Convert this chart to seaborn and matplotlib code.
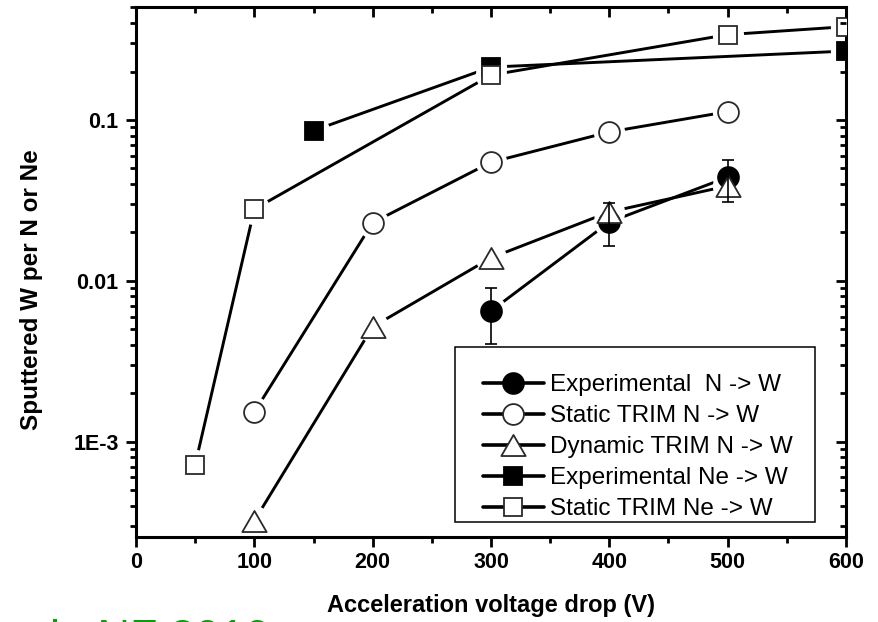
import numpy as np
import pandas as pd
import matplotlib
matplotlib.use("Agg")
import matplotlib.pyplot as plt
import seaborn as sns
from matplotlib.lines import Line2D
from matplotlib.patches import Rectangle
from matplotlib.path import Path
from matplotlib.ticker import FixedLocator, LogLocator, NullFormatter, MultipleLocator

# ---- data: sputtered W per incident ion vs. acceleration voltage drop ----
voltage_exp_n = [300, 400, 500]
yield_exp_n = [6.5e-3, 0.0232, 0.0441]
err_low_exp_n = [4.05e-3, 0.0165, 0.0311]
err_high_exp_n = [9.0e-3, 0.0305, 0.0565]

voltage_trim_n = [100, 200, 300, 400, 500]
yield_static_n = [1.53e-3, 0.0230, 0.0546, 0.0842, 0.1126]
yield_dynamic_n = [3.23e-4, 5.18e-3, 0.0139, 0.0268, 0.0389]

voltage_exp_ne = [150, 300, 600]
yield_exp_ne = [0.0858, 0.213, 0.268]

voltage_trim_ne = [50, 100, 300, 500, 600]
yield_static_ne = [7.2e-4, 0.0279, 0.190, 0.339, 0.380]

series_labels = [
    "Experimental  N -> W",
    "Static TRIM N -> W",
    "Dynamic TRIM N -> W",
    "Experimental Ne -> W",
    "Static TRIM Ne -> W",
]

x_ticks = [0, 100, 200, 300, 400, 500, 600]
y_ticks = [1e-3, 1e-2, 1e-1]
y_tick_labels = ["1E-3", "0.01", "0.1"]

# ---- styling ----
sns.set_theme(style="ticks")
plt.rcParams["font.family"] = ["Liberation Sans", "DejaVu Sans"]

tri = Path([(-1, -0.866), (1, -0.866), (0, 0.866), (-1, -0.866)],
           [Path.MOVETO, Path.LINETO, Path.LINETO, Path.CLOSEPOLY])
open_edge = "#2a2a2a"
styles = [
    dict(marker="o", ms=15.0, mfc="black", mec="black"),
    dict(marker="o", ms=15.0, mfc="white", mec=open_edge),
    dict(marker=tri, ms=17.5, mfc="white", mec=open_edge),
    dict(marker="s", ms=13.5, mfc="black", mec="black"),
    dict(marker="s", ms=13.5, mfc="white", mec=open_edge),
]
series = [
    (voltage_exp_n, yield_exp_n),
    (voltage_trim_n, yield_static_n),
    (voltage_trim_n, yield_dynamic_n),
    (voltage_exp_ne, yield_exp_ne),
    (voltage_trim_ne, yield_static_ne),
]

W, H = 879, 622
fig = plt.figure(figsize=(W / 100, H / 100), dpi=100)
fig.patch.set_facecolor("white")
ax = fig.add_axes([136 / W, 1 - 537 / H, 710 / W, 530.5 / H])
ax.set_facecolor("white")
ax.set_yscale("log")

# connecting lines
for (xs, ys), lab in zip(series, series_labels):
    df = pd.DataFrame({"V": xs, "Y": ys})
    sns.lineplot(data=df, x="V", y="Y", ax=ax, color="black", lw=2.1,
                 sort=False, estimator=None, legend=False, zorder=2)

# white gap around each point, then the symbols
for (xs, ys) in series:
    ax.plot(xs, ys, ls="none", marker="o", ms=21.5, mfc="white", mec="white",
            zorder=3)
for (xs, ys), st in zip(series, styles):
    ax.plot(xs, ys, ls="none", marker=st["marker"], ms=st["ms"],
            mfc=st["mfc"], mec=st["mec"], mew=1.3, zorder=4)

# error bars on the N experimental points
ye = np.array(yield_exp_n)
ax.errorbar(voltage_exp_n, yield_exp_n,
            yerr=[ye - np.array(err_low_exp_n), np.array(err_high_exp_n) - ye],
            fmt="none", ecolor="black", elinewidth=1.2, capsize=4.3,
            capthick=1.2, zorder=6)

# axes limits and ticks
ax.set_xlim(0, 600)
ax.set_ylim(2.56e-4, 0.507)
ax.set_xticks(x_ticks, labels=[str(v) for v in x_ticks],
              fontweight="bold", fontsize=15.5)
ax.xaxis.set_minor_locator(MultipleLocator(50))
ax.set_yticks(y_ticks, labels=y_tick_labels, fontweight="bold", fontsize=15.5)
ax.yaxis.set_minor_locator(LogLocator(base=10, subs=np.arange(2, 10)))
ax.yaxis.set_minor_formatter(NullFormatter())

ax.tick_params(axis="both", which="major", direction="out", length=7.5,
               width=2, color="black", labelcolor="black")
ax.tick_params(axis="both", which="minor", direction="out", length=4,
               width=2, color="black")
ax.tick_params(axis="x", pad=3)
ax.tick_params(axis="y", pad=5)

for sp in ax.spines.values():
    sp.set_visible(True)
    sp.set_color("black")
    sp.set_linewidth(2.2)
    sp.set_zorder(3.5)

# inward ticks on the top and right sides
axt = ax.twiny()
axt.set_xlim(ax.get_xlim())
axt.xaxis.set_major_locator(MultipleLocator(100))
axt.xaxis.set_minor_locator(MultipleLocator(50))
axt.tick_params(axis="x", which="major", direction="in", length=7.5, width=2,
                color="black", labeltop=False)
axt.tick_params(axis="x", which="minor", direction="in", length=4, width=2,
                color="black")
axr = ax.twinx()
axr.set_yscale("log")
axr.set_ylim(ax.get_ylim())
axr.yaxis.set_major_locator(FixedLocator(y_ticks))
axr.yaxis.set_minor_locator(LogLocator(base=10, subs=np.arange(2, 10)))
axr.yaxis.set_major_formatter(NullFormatter())
axr.yaxis.set_minor_formatter(NullFormatter())
axr.tick_params(axis="y", which="major", direction="in", length=7.5, width=2,
                color="black", labelright=False)
axr.tick_params(axis="y", which="minor", direction="in", length=4, width=2,
                color="black")
for a in (axt, axr):
    for sp in a.spines.values():
        sp.set_visible(False)
    a.grid(False)

# axis titles
ax.set_xlabel("Acceleration voltage drop (V)", fontsize=17, fontweight="bold",
              color="black")
ax.xaxis.set_label_coords(0.5, -0.1068)
ax.xaxis.label.set_va("top")
ax.set_ylabel("Sputtered W per N or Ne", fontsize=17.5, fontweight="bold",
              color="black")
ax.yaxis.set_label_coords(-0.1465, 0.466)
ax.yaxis.label.set_va("center")

# legend with a plain rectangular frame
handles = [Line2D([0], [0], color="black", lw=2.6, marker=st["marker"],
                  ms=st["ms"], mfc=st["mfc"], mec=st["mec"], mew=1.3)
           for st in styles]
frame = Rectangle((0.4493, 0.0283), 0.507, 0.3302, transform=ax.transAxes,
                  facecolor="white", edgecolor="black", lw=1.1, zorder=7)
ax.add_patch(frame)
leg = ax.legend(handles, series_labels, loc="upper left",
                bbox_to_anchor=(0.4887, 0.307), frameon=False, borderpad=0,
                borderaxespad=0, handlelength=2.5, handletextpad=0.25,
                labelspacing=0.37, fontsize=17.5, numpoints=1)
leg.set_zorder(8)
for t in leg.get_texts():
    t.set_color("black")

# citation, partly running off the lower-left edge
fig.text(-25 / W, (H - 650) / H, "et al., NF 2010", color="#0a9e0a",
         fontsize=32.4, ha="left", va="baseline")

fig.savefig("out.png", dpi=100)
